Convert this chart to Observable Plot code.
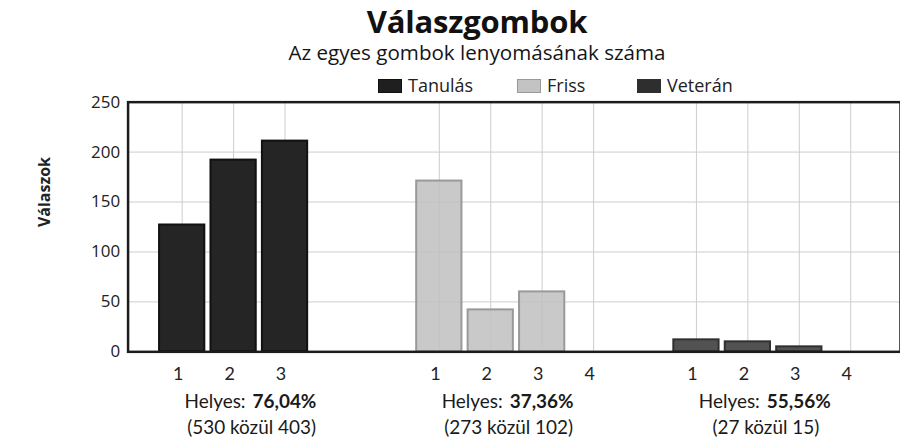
<!DOCTYPE html>
<html>
<head>
<meta charset="utf-8">
<script src="https://cdn.jsdelivr.net/npm/d3@7"></script>
<script src="https://cdn.jsdelivr.net/npm/@observablehq/plot@0.6"></script>
<style>
  body { margin: 0; background: #fff; }
  #wrap { position: relative; width: 900px; height: 442px; overflow: hidden; font-family: "Open Sans", sans-serif; color: #111; }
  #chart { position: absolute; left: 0; top: 0; }
  #title { position: absolute; left: 477px; top: 0px; transform: translateX(-50%); font-weight: 700; font-size: 31px; line-height: normal; letter-spacing: -0.2px; white-space: nowrap; }
  #subtitle { position: absolute; left: 477px; top: 42px; transform: translateX(-50%); font-size: 20.6px; line-height: 20px; white-space: nowrap; color: #151515; }
  .leg { position: absolute; top: 75px; font-size: 18px; line-height: 20px; white-space: nowrap; color: #222; }
  .leg i { position: absolute; left: 0; top: 4px; width: 22px; height: 12px; border: 1px solid; }
  .leg span { position: absolute; left: 30px; top: 0; }
</style>
</head>
<body>
<div id="wrap">
  <div id="chart"></div>
  <div id="title">Válaszgombok</div>
  <div id="subtitle">Az egyes gombok lenyomásának száma</div>
</div>
<script>
// ---- data ----
const groups = ["Tanulás", "Friss", "Veterán"];
const answerLabels = [["1", "2", "3"], ["1", "2", "3", "4"], ["1", "2", "3", "4"]];
const tanulasValues = [127, 192, 211];
const frissValues = [171, 42, 60, 0];
const veteranValues = [12, 10, 5, 0];
const correctPercent = ["76,04%", "37,36%", "55,56%"];
const totalAnswers = [530, 273, 27];
const correctAnswers = [403, 102, 15];
const yTicks = [0, 50, 100, 150, 200, 250];
const yGrid = [50, 100, 150, 200];
const yLabel = "Válaszok";
const helyesLabel = "Helyes:";
const fills = ["#252525", "#c0c0c0", "#525252"];
const fillOpacities = [1, 0.85, 1];
const strokes = ["#111111", "#999999", "#303030"];
const legendFills = ["#1f1f1f", "#c3c3c3", "#2e2e2e"];
const legendLeft = [378, 517, 637];

// ---- build table ----
const seriesValues = [tanulasValues, frissValues, veteranValues];
const slotsPerGroup = 4;
const slotKeys = [];
groups.forEach((g, gi) => {
  for (let j = 1; j <= slotsPerGroup; j++) slotKeys.push(g + "|" + j);
  if (gi < groups.length - 1) slotKeys.push("gap" + gi);
});
const rows = [];
groups.forEach((g, gi) => {
  seriesValues[gi].forEach((v, j) => {
    rows.push({group: g, gi, key: g + "|" + answerLabels[gi][j], answer: answerLabels[gi][j], value: v});
  });
});
const tickMap = new Map(rows.map(r => [r.key, r.answer]));
const groupInfo = groups.map((g, gi) => ({
  group: g, midKey: g + "|2", pct: correctPercent[gi],
  detail: `(${totalAnswers[gi]} közül ${correctAnswers[gi]})`
}));

const barMarks = groups.map((g, gi) => Plot.barY(rows.filter(r => r.gi === gi), {
  x: "key", y: "value",
  fill: fills[gi], stroke: strokes[gi],
  strokeWidth: 2, fillOpacity: fillOpacities[gi]
}));

const chart = Plot.plot({
  width: 903,
  height: 442,
  marginLeft: 128,
  marginRight: 0,
  marginTop: 102,
  marginBottom: 89.5,
  style: {fontFamily: "Open Sans", background: "transparent"},
  x: {type: "band", domain: slotKeys, paddingInner: 0.12, paddingOuter: 0.57, align: 0.537, round: false, axis: null},
  y: {domain: [0, 250], axis: null},
  marks: [
    Plot.ruleY(yGrid, {stroke: "#cdcdcd", strokeWidth: 1}),
    Plot.ruleX(rows, {x: "key", y1: 0, y2: 250, stroke: "#cdcdcd", strokeWidth: 1}),
    ...barMarks,
    Plot.frame({stroke: "#1c1c1c", strokeWidth: 2.5}),
    Plot.axisY(yTicks, {tickSize: 0, tickPadding: 8, fontSize: 17, fill: "#222", label: null}),
    Plot.axisX(rows.map(r => r.key), {
      tickSize: 0, tickPadding: 15, dx: -4, fontSize: 18, fontFamily: "Lato", fill: "#222",
      tickFormat: k => tickMap.get(k), label: null
    }),
    Plot.text([yLabel], {
      text: d => d, frameAnchor: "left", rotate: -90, dx: -83,
      fontSize: 16, fontWeight: "bold", fill: "#222"
    }),
    Plot.text(groupInfo, {
      x: "midKey", text: () => helyesLabel, frameAnchor: "bottom",
      dx: 12, dy: 50, textAnchor: "end", lineAnchor: "middle",
      fontSize: 19, fontFamily: "Lato", fill: "#1a1a1a"
    }),
    Plot.text(groupInfo, {
      x: "midKey", text: "pct", frameAnchor: "bottom",
      dx: 19, dy: 50, textAnchor: "start", lineAnchor: "middle",
      fontSize: 19, fontFamily: "Lato", fontWeight: "bold", fill: "#1a1a1a"
    }),
    Plot.text(groupInfo, {
      x: "midKey", text: "detail", frameAnchor: "bottom",
      dx: 18, dy: 76, textAnchor: "middle", lineAnchor: "middle",
      fontSize: 19, fontFamily: "Lato", fill: "#1a1a1a"
    })
  ]
});
document.getElementById("chart").appendChild(chart);

// ---- legend ----
const wrap = d3.select("#wrap");
groups.forEach((g, gi) => {
  const item = wrap.append("div").attr("class", "leg").style("left", legendLeft[gi] + "px");
  item.append("i").style("background", legendFills[gi]).style("border-color", strokes[gi]);
  item.append("span").text(g);
});
</script>
</body>
</html>
